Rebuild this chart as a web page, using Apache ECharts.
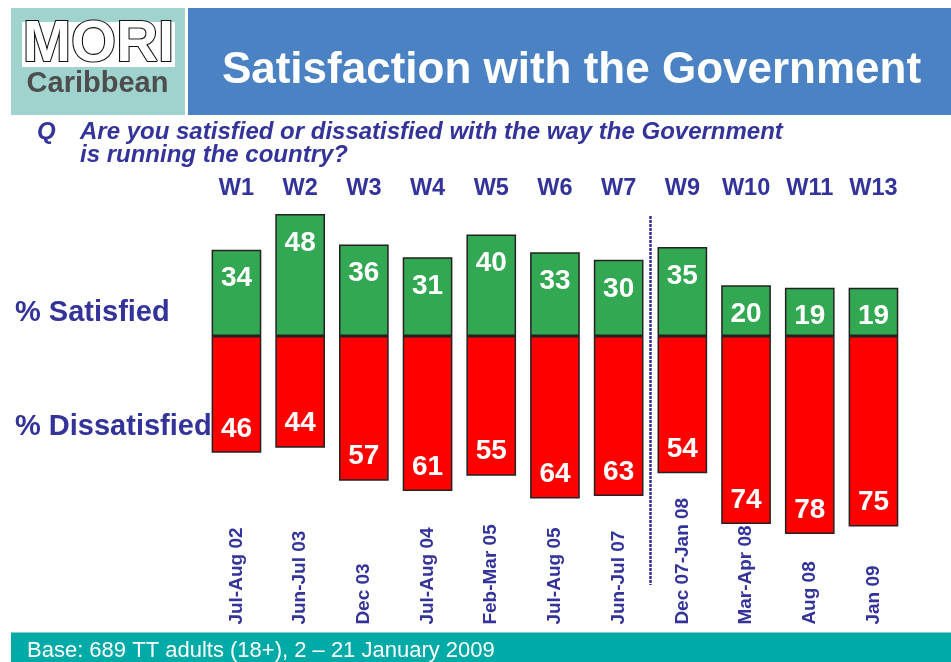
<!DOCTYPE html>
<html>
<head>
<meta charset="utf-8">
<script src="https://cdn.jsdelivr.net/npm/echarts@6/dist/echarts.min.js"></script>
<style>
  html, body { margin: 0; padding: 0; background: #fff; }
  #chart { width: 951px; height: 662px; }
</style>
</head>
<body>
<div id="chart"></div>
<script>
// Survey waves and fieldwork periods
const waves = ['W1', 'W2', 'W3', 'W4', 'W5', 'W6', 'W7', 'W9', 'W10', 'W11', 'W13'];
const periods = ['Jul-Aug 02', 'Jun-Jul 03', 'Dec 03', 'Jul-Aug 04', 'Feb-Mar 05', 'Jul-Aug 05',
                 'Jun-Jul 07', 'Dec 07-Jan 08', 'Mar-Apr 08', 'Aug 08', 'Jan 09'];
// Percentages per wave
const satisfied = [34, 48, 36, 31, 40, 33, 30, 35, 20, 19, 19];
const dissatisfied = [46, 44, 57, 61, 55, 64, 63, 54, 74, 78, 75];

const FONT = 'Liberation Sans, Arial, sans-serif';
const NAVY = '#333399';

const chart = echarts.init(document.getElementById('chart'));

const option = {
  backgroundColor: '#ffffff',
  animation: false,
  grid: { left: 204.6, right: 45.7, top: 209, bottom: 97.4, containLabel: false },
  xAxis: [
    {
      type: 'category', data: waves, position: 'top',
      axisLine: { show: false }, axisTick: { show: false },
      axisLabel: { interval: 0, margin: 8, color: NAVY, fontFamily: FONT, fontWeight: 'bold', fontSize: 23.5 }
    },
    {
      type: 'category', data: periods, position: 'bottom',
      axisLine: { show: false }, axisTick: { show: false },
      axisLabel: { interval: 0, rotate: 90, align: 'left', margin: 60, color: NAVY,
                   fontFamily: FONT, fontWeight: 'bold', fontSize: 19 }
    }
  ],
  yAxis: { type: 'value', min: -90, max: 50, show: false, splitLine: { show: false } },
  series: [
    {
      name: '% Satisfied', type: 'bar', xAxisIndex: 0, data: satisfied,
      barWidth: '78%', barGap: '-100%',
      itemStyle: { color: '#33A852', borderColor: '#222222', borderWidth: 1.5 },
      label: { show: true, position: 'insideTop', distance: 15, color: '#ffffff',
               fontFamily: FONT, fontWeight: 'bold', fontSize: 28 }
    },
    {
      name: '% Dissatisfied', type: 'bar', xAxisIndex: 0,
      data: dissatisfied.map(v => -v),
      barWidth: '78%', barGap: '-100%',
      itemStyle: { color: '#FF0000', borderColor: '#222222', borderWidth: 1.5 },
      label: { show: true, position: 'insideBottom', distance: 10, color: '#ffffff',
               fontFamily: FONT, fontWeight: 'bold', fontSize: 28,
               formatter: p => Math.abs(p.value) }
    }
  ],
  graphic: [
    // header panels
    { type: 'rect', shape: { x: 11, y: 8, width: 174, height: 107 }, style: { fill: '#A0D2CE' } },
    { type: 'rect', shape: { x: 188, y: 8, width: 763, height: 107 }, style: { fill: '#4A82C4' } },
    { type: 'rect', shape: { x: 22, y: 22, width: 153, height: 45 }, style: { fill: '#ffffff' } },
    { type: 'text', x: 98.5, y: 45, style: { text: 'MORI', fill: '#ffffff', stroke: '#111111', lineWidth: 2.2,
        font: 'bold 58px ' + FONT, textAlign: 'center', textVerticalAlign: 'middle' } },
    { type: 'text', x: 97.5, y: 84, style: { text: 'Caribbean', fill: '#4D4D4D',
        font: 'bold 29px ' + FONT, textAlign: 'center', textVerticalAlign: 'middle' } },
    { type: 'text', x: 571.5, y: 71, style: { text: 'Satisfaction with the Government', fill: '#ffffff',
        font: 'bold 44px ' + FONT, textAlign: 'center', textVerticalAlign: 'middle' } },
    // question
    { type: 'text', x: 37, y: 132, style: { text: 'Q', fill: NAVY,
        font: 'italic bold 24px ' + FONT, textAlign: 'left', textVerticalAlign: 'middle' } },
    { type: 'text', x: 80, y: 132, style: { text: 'Are you satisfied or dissatisfied with the way the Government', fill: NAVY,
        font: 'italic bold 24px ' + FONT, textAlign: 'left', textVerticalAlign: 'middle' } },
    { type: 'text', x: 80, y: 155, style: { text: 'is running the country?', fill: NAVY,
        font: 'italic bold 24px ' + FONT, textAlign: 'left', textVerticalAlign: 'middle' } },
    // row captions
    { type: 'text', x: 15, y: 313, style: { text: '% Satisfied', fill: NAVY,
        font: 'bold 29px ' + FONT, textAlign: 'left', textVerticalAlign: 'middle' } },
    { type: 'text', x: 15, y: 427, style: { text: '% Dissatisfied', fill: NAVY,
        font: 'bold 29px ' + FONT, textAlign: 'left', textVerticalAlign: 'middle' } },
    // footer
    { type: 'rect', shape: { x: 11, y: 632.5, width: 940, height: 30 }, style: { fill: '#00AAA6' } },
    { type: 'text', x: 27, y: 651, style: { text: 'Base: 689 TT adults (18+), 2 \u2013 21 January 2009', fill: '#ffffff',
        font: '22px ' + FONT, textAlign: 'left', textVerticalAlign: 'middle' } }
  ]
};

chart.setOption(option);

// Dotted divider between W7 and W9
const xa = chart.convertToPixel({ xAxisIndex: 0 }, 'W7');
const xb = chart.convertToPixel({ xAxisIndex: 0 }, 'W9');
const xm = (xa + xb) / 2;
chart.setOption({
  graphic: option.graphic.concat([{
    type: 'line', shape: { x1: xm, y1: 216, x2: xm, y2: 585 },
    style: { stroke: NAVY, lineWidth: 2.5, lineDash: [3, 1] }, z: 10
  }])
});
</script>
</body>
</html>
